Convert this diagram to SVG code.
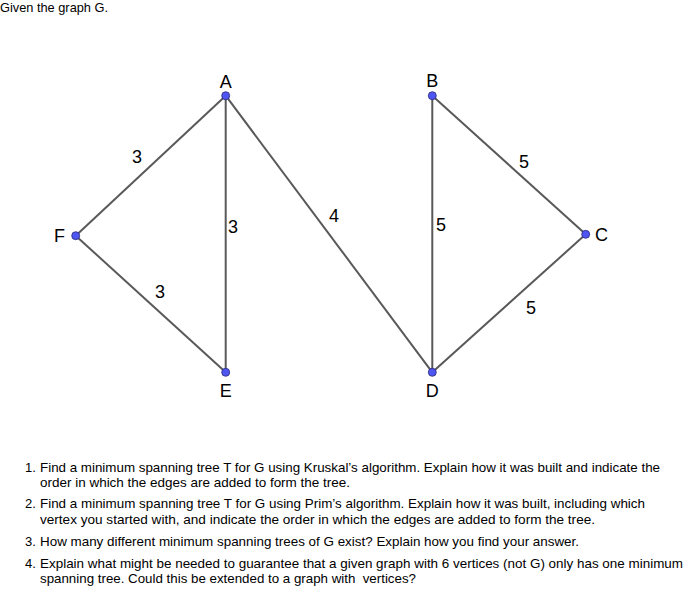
<svg xmlns="http://www.w3.org/2000/svg" width="691" height="594" viewBox="0 0 691 594">
<style>
.edge{stroke:#595959;stroke-width:2;fill:none}
.v{fill:#4f55f0;stroke:#2a2a7a;stroke-width:0.8}
.lbl{font-family:"Liberation Sans",Arial,sans-serif;font-size:18px;fill:#000}
.w{font-family:"Liberation Sans",Arial,sans-serif;font-size:18px;fill:#000;text-anchor:middle}
.t{font-family:"Liberation Sans",Arial,sans-serif;font-size:13px;fill:#000}
</style>
<rect width="691" height="594" fill="#fff"/>
<text class="t" x="0" y="12" textLength="108" lengthAdjust="spacingAndGlyphs">Given the graph G.</text>
<g id="connectors">
<line class="edge" x1="225.7" y1="95.7" x2="75.7" y2="235.7"/>
<line class="edge" x1="225.7" y1="95.7" x2="225.7" y2="372.3"/>
<line class="edge" x1="225.7" y1="95.7" x2="432.3" y2="372.3"/>
<line class="edge" x1="75.7" y1="235.7" x2="225.7" y2="372.3"/>
<line class="edge" x1="432.3" y1="95.7" x2="432.3" y2="372.3"/>
<line class="edge" x1="432.3" y1="95.7" x2="585.7" y2="234.3"/>
<line class="edge" x1="432.3" y1="372.3" x2="585.7" y2="234.3"/>
<text class="w" x="137" y="163">3</text>
<text class="w" x="233" y="233">3</text>
<text class="w" x="160" y="298">3</text>
<text class="w" x="334" y="222">4</text>
<text class="w" x="441" y="231">5</text>
<text class="w" x="524" y="168">5</text>
<text class="w" x="531" y="314">5</text>
</g>
<g id="A"><circle class="v" cx="225.7" cy="95.7" r="4"/><text class="lbl" x="225.7" y="88" text-anchor="middle">A</text></g>
<g id="B"><circle class="v" cx="432.3" cy="95.7" r="4"/><text class="lbl" x="432.3" y="87" text-anchor="middle">B</text></g>
<g id="C"><circle class="v" cx="585.7" cy="234.3" r="4"/><text class="lbl" x="595" y="241">C</text></g>
<g id="D"><circle class="v" cx="432.3" cy="372.3" r="4"/><text class="lbl" x="432.3" y="397" text-anchor="middle">D</text></g>
<g id="E"><circle class="v" cx="225.7" cy="372.3" r="4"/><text class="lbl" x="225.7" y="397" text-anchor="middle">E</text></g>
<g id="F"><circle class="v" cx="75.7" cy="235.7" r="4"/><text class="lbl" x="65" y="242" text-anchor="end">F</text></g>
<g id="questions">
<text class="t" x="25" y="472">1.</text>
<text class="t" x="40" y="472" textLength="620" lengthAdjust="spacingAndGlyphs">Find a minimum spanning tree T for G using Kruskal’s algorithm. Explain how it was built and indicate the</text>
<text class="t" x="40" y="487" textLength="310" lengthAdjust="spacingAndGlyphs">order in which the edges are added to form the tree.</text>
<text class="t" x="25" y="508">2.</text>
<text class="t" x="40" y="508" textLength="605" lengthAdjust="spacingAndGlyphs">Find a minimum spanning tree T for G using Prim’s algorithm. Explain how it was built, including which</text>
<text class="t" x="40" y="524" textLength="555" lengthAdjust="spacingAndGlyphs">vertex you started with, and indicate the order in which the edges are added to form the tree.</text>
<text class="t" x="25" y="546">3.</text>
<text class="t" x="40" y="546" textLength="539" lengthAdjust="spacingAndGlyphs">How many different minimum spanning trees of G exist? Explain how you find your answer.</text>
<text class="t" x="25" y="568">4.</text>
<text class="t" x="40" y="568" textLength="643" lengthAdjust="spacingAndGlyphs">Explain what might be needed to guarantee that a given graph with 6 vertices (not G) only has one minimum</text>
<text class="t" x="40" y="583" textLength="376" lengthAdjust="spacingAndGlyphs" xml:space="preserve">spanning tree. Could this be extended to a graph with  vertices?</text>
</g>
</svg>
